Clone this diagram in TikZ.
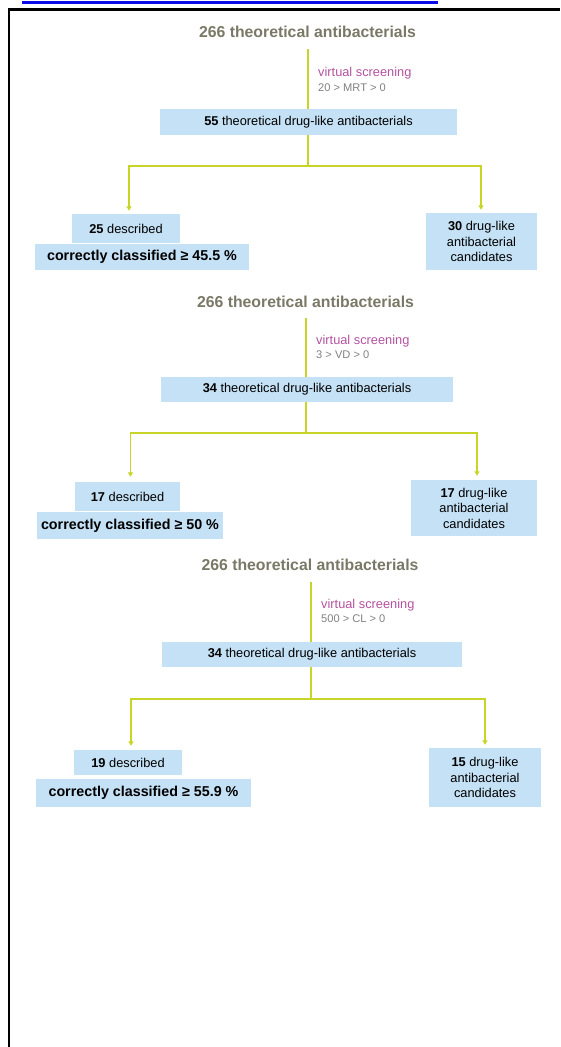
\documentclass[tikz,border=0pt]{standalone}
\usepackage{fontspec}
\setmainfont{Liberation Sans}
\usetikzlibrary{arrows.meta,positioning}
\definecolor{boxblue}{RGB}{197,225,245}
\definecolor{linegreen}{RGB}{200,212,40}
\definecolor{titlegray}{RGB}{122,120,102}
\definecolor{screenpink}{RGB}{180,82,160}
\definecolor{condgray}{RGB}{128,128,128}
\definecolor{linkblue}{RGB}{10,10,235}
\tikzset{
  box/.style={fill=boxblue, inner sep=0pt, align=center, font=\fontsize{12.8}{15.5}\selectfont},
  ratebox/.style={box, font=\fontsize{14.3}{17}\selectfont\bfseries},
  headline/.style={inner sep=0pt, font=\fontsize{15.8}{18}\selectfont\bfseries, text=titlegray},
  screen/.style={anchor=west, inner sep=0pt, font=\fontsize{12.8}{15}\selectfont, text=screenpink},
  cond/.style={anchor=west, inner sep=0pt, font=\fontsize{11.1}{13}\selectfont, text=condgray},
  link/.style={draw=linegreen, line width=1.7pt},
  flow/.style={link, -{Triangle[width=5pt,length=4.5pt]}},
}
\begin{document}
\begin{tikzpicture}[x=1pt,y=-1pt]
    \useasboundingbox (0,0) rectangle (560,1047);

    % Page frame and link underline
    \draw[linkblue, line width=3pt] (22,2) -- (438,2);
    \draw[line width=2.4pt] (8,9.5) -- (560,9.5);
    \draw[line width=2.5pt] (9,8.5) -- (9,1047);

    % First screening: MRT
    \begin{scope}
        \node[headline] (total1) at (307.5,32) {266 theoretical antibacterials};
        \coordinate (top1) at (308,49);
        \node[screen] (screen1) at (318,73) {virtual screening};
        \node[cond] (cond1) at (318,88) {20 > MRT > 0};
        \node[box, minimum width=297, minimum height=26] (pool1) at (308.5,122) {\textbf{55} theoretical drug-like antibacterials};
        \coordinate (split1) at (308,166);

        \node[box, minimum width=108, minimum height=29] (desc1) at (126,228.5) {\textbf{25} described};
        \node[ratebox, minimum width=214, minimum height=26] (rate1) at (142,257) {correctly classified ≥ 45.5 \%};
        \node[box, minimum width=111, minimum height=57] (cand1) at (481.5,241.5) {\textbf{30} drug-like\\antibacterial\\candidates};

        % Connectors
        \draw[link] (top1) -- (top1 |- pool1.north);
        \draw[link] (top1 |- pool1.south) -- (split1);
        \draw[flow] (split1) -| ([xshift=3pt,yshift=3pt]desc1.north);
        \draw[flow] (split1) -| ([xshift=-0.5pt,yshift=3pt]cand1.north);
    \end{scope}

    % Second screening: VD
    \begin{scope}
        \node[headline] (total2) at (305.5,302) {266 theoretical antibacterials};
        \coordinate (top2) at (306,318);
        \node[screen] (screen2) at (316,341) {virtual screening};
        \node[cond] (cond2) at (316,355) {3 > VD > 0};
        \node[box, minimum width=292, minimum height=25] (pool2) at (307,389.5) {\textbf{34} theoretical drug-like antibacterials};
        \coordinate (split2) at (306,433);

        \node[box, minimum width=105, minimum height=29] (desc2) at (127.5,496.5) {\textbf{17} described};
        \node[ratebox, minimum width=186, minimum height=27] (rate2) at (130,525.5) {correctly classified ≥ 50 \%};
        \node[box, minimum width=126, minimum height=56] (cand2) at (474,508) {\textbf{17} drug-like\\antibacterial\\candidates};

        % Connectors
        \draw[link] (top2) -- (top2 |- pool2.north);
        \draw[link] (top2 |- pool2.south) -- (split2);
        \draw[flow] (split2) -| ([xshift=3pt,yshift=5pt]desc2.north);
        \draw[flow] (split2) -| ([xshift=3pt,yshift=4pt]cand2.north);
    \end{scope}

    % Third screening: CL
    \begin{scope}
        \node[headline] (total3) at (310,565) {266 theoretical antibacterials};
        \coordinate (top3) at (311,582);
        \node[screen] (screen3) at (321,605) {virtual screening};
        \node[cond] (cond3) at (321,619) {500 > CL > 0};
        \node[box, minimum width=300, minimum height=25] (pool3) at (312,654.5) {\textbf{34} theoretical drug-like antibacterials};
        \coordinate (split3) at (311,699);

        \node[box, minimum width=108, minimum height=25] (desc3) at (128,762.5) {\textbf{19} described};
        \node[ratebox, minimum width=215, minimum height=28] (rate3) at (143.5,793) {correctly classified ≥ 55.9 \%};
        \node[box, minimum width=112, minimum height=59] (cand3) at (485,777.5) {\textbf{15} drug-like\\antibacterial\\candidates};

        % Connectors
        \draw[link] (top3) -- (top3 |- pool3.north);
        \draw[link] (top3 |- pool3.south) -- (split3);
        \draw[flow] (split3) -| ([xshift=3pt,yshift=4pt]desc3.north);
        \draw[flow] (split3) -| ([yshift=3pt]cand3.north);
    \end{scope}
\end{tikzpicture}
\end{document}
